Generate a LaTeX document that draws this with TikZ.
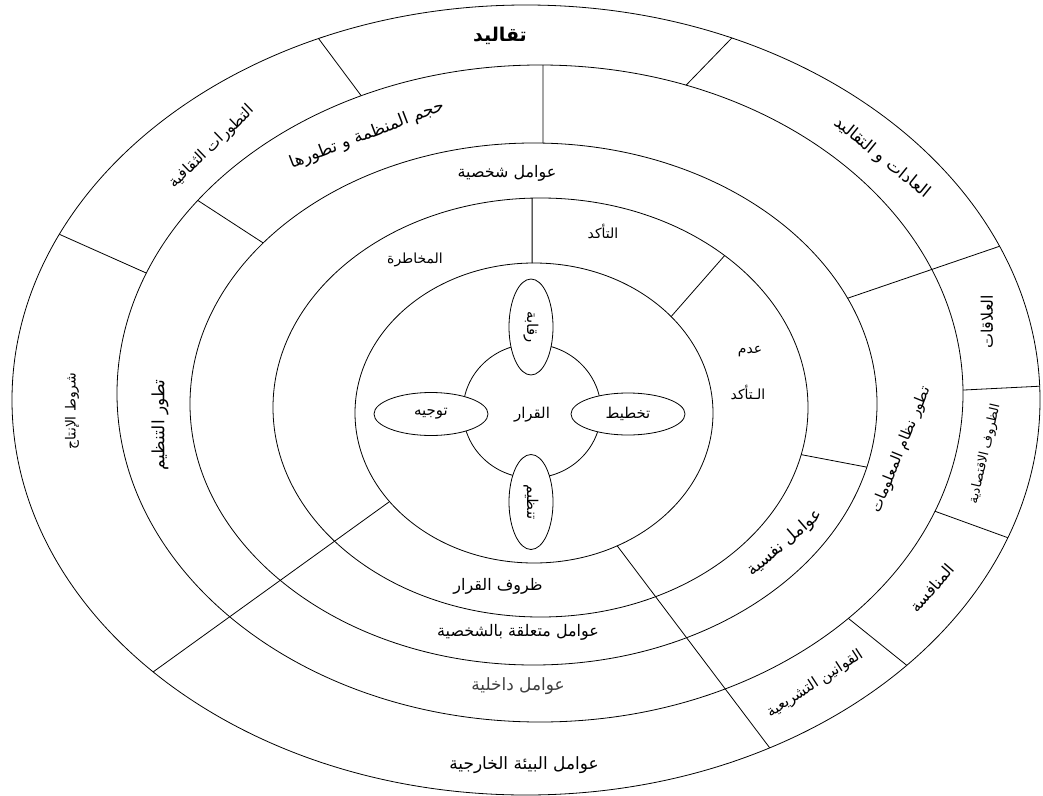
\documentclass[tikz,border=0pt]{standalone}
\usepackage{fontspec}
\newfontfamily\arabicfont[Script=Arabic]{DejaVu Sans}
\TeXXeTstate=1
\usetikzlibrary{calc,shapes.geometric}

\newcommand{\artxt}[1]{\beginR#1\endR}

\tikzset{
    lbl/.style={font=\arabicfont\fontsize{#1}{#1}\selectfont, inner sep=1pt},
    lbl/.default=12,
    titlelbl/.style={font=\arabicfont\bfseries\fontsize{#1}{#1}\selectfont, inner sep=1pt},
    petal/.style={draw, fill=white, ellipse, inner sep=0pt, lbl=15}
}

\begin{document}
\begin{tikzpicture}[x=1bp, y=-1bp, line width=0.8bp]
    \useasboundingbox (0,0) rectangle (1043,796);

    % Centres of the rings
    \coordinate (c1) at (526,400);
    \coordinate (c2) at (540,393.5);
    \coordinate (c3) at (533.5,404);
    \coordinate (c4) at (540.5,407.5);
    \coordinate (c5) at (534,413);
    \coordinate (c6) at (532,411);

    % Rings
    \draw (c1) ellipse [x radius=514bp, y radius=395bp];
    \draw (c2) ellipse [x radius=423bp, y radius=328.5bp];
    \draw (c3) ellipse [x radius=343.5bp, y radius=261bp];
    \draw (c4) ellipse [x radius=267.5bp, y radius=209.5bp];
    \draw (c5) ellipse [x radius=179bp, y radius=150bp];

    % Outer ring: dividers
    \draw ($(c1)+(113.8:514bp and 395bp)$) -- ($(c2)+(115:423bp and 328.5bp)$);
    \draw ($(c1)+(66.4:514bp and 395bp)$) -- ($(c2)+(69.8:423bp and 328.5bp)$);
    \draw ($(c1)+(155.2:514bp and 395bp)$) -- ($(c2)+(158.5:423bp and 328.5bp)$);
    \draw ($(c1)+(22.9:514bp and 395bp)$) -- ($(c3)+(23.9:343.5bp and 261bp)$);
    \draw ($(c1)+(2:514bp and 395bp)$) -- ($(c2)+(0.6:423bp and 328.5bp)$);
    \draw ($(c1)+(-20.4:514bp and 395bp)$) -- ($(c2)+(-21:423bp and 328.5bp)$);
    \draw ($(c1)+(-42.2:514bp and 395bp)$) -- ($(c2)+(-43.2:423bp and 328.5bp)$);

    % Long dividers from the inner ring out
    \draw ($(c5)+(-62.3:179bp and 150bp)$) -- ($(c1)+(-61.7:514bp and 395bp)$);
    \draw ($(c5)+(216.2:179bp and 150bp)$) -- ($(c1)+(223.5:514bp and 395bp)$);

    % Middle rings: dividers
    \draw ($(c2)+(144:423bp and 328.5bp)$) -- ($(c3)+(141.9:343.5bp and 261bp)$);
    \draw ($(c2)+(89.6:423bp and 328.5bp)$) -- ($(c3)+(88.4:343.5bp and 261bp)$);
    \draw ($(c4)+(-13:267.5bp and 209.5bp)$) -- ($(c3)+(-14:343.5bp and 261bp)$);
    \draw ($(c4)+(91.8:267.5bp and 209.5bp)$) -- ($(c5)+(90.6:179bp and 150bp)$);
    \draw ($(c4)+(46.5:267.5bp and 209.5bp)$) -- ($(c5)+(40:179bp and 150bp)$);

    % Decision core
    \draw (c6) ellipse [x radius=69bp, y radius=67bp];
    \node[petal, minimum width=96bp, minimum height=44bp, rotate=-90] (raqaba) at (531,327) {\artxt{رقابة}};
    \node[petal, minimum width=95bp, minimum height=44bp, rotate=-90] (tanzim) at (531,502) {\artxt{تنظيم}};
    \node[petal, minimum width=114bp, minimum height=43bp] (tawjih) at (431,414) {\artxt{توجيه}};
    \node[petal, minimum width=114bp, minimum height=42bp] (takhtit) at (628,414) {\artxt{تخطيط}};
    \node[lbl=15] (qarar) at (532,415) {\artxt{القرار}};

    % Ring D
    \node[lbl=14] (risk) at (415,260) {\artxt{المخاطرة}};
    \node[lbl=14] (certain) at (603,231) {\artxt{التأكد}};
    \node[lbl=14] (adam) at (750,352) {\artxt{عدم}};
    \node[lbl=14] (uncertain) at (748,392) {\artxt{الـتأكد}};
    \node[lbl=16] (conditions) at (498,586) {\artxt{ظروف القرار}};

    % Ring C
    \node[lbl=16] (personal) at (507,173) {\artxt{عوامل شخصية}};
    \node[lbl=17, rotate=41] (psych) at (785,543) {\artxt{عوامل نفسية}};
    \node[lbl=16] (personality) at (518,632) {\artxt{عوامل متعلقة بالشخصية}};

    % Ring B
    \node[lbl=17, rotate=21] (size) at (367,135) {\artxt{حجم المنظمة و تطورها}};
    \node[lbl=17, rotate=90] (orgdev) at (160,425) {\artxt{تطور التنظيم}};
    \node[lbl=15, rotate=68] (infosys) at (901,450) {\artxt{تطور نظام المعلومات}};
    \node[lbl=17, black!75] (internal) at (518,686) {\artxt{عوامل داخلية}};

    % Ring A
    \node[titlelbl=19] (traditions) at (500,36) {\artxt{تقاليد}};
    \node[lbl=15.5, rotate=44] (culture) at (212,147) {\artxt{التطورات الثقافية}};
    \node[lbl=17, rotate=-39] (customs) at (882,158) {\artxt{العادات و التقاليد}};
    \node[lbl=16, rotate=90] (relations) at (987,322) {\artxt{العلاقات}};
    \node[lbl=13, rotate=77] (economy) at (985,454) {\artxt{الظروف الاقتصادية}};
    \node[lbl=16, rotate=49] (competition) at (932,588) {\artxt{المنافسة}};
    \node[lbl=15, rotate=33] (laws) at (815,684) {\artxt{القوانين التشريعية}};
    \node[lbl=17] (external) at (524,765) {\artxt{عوامل البيئة الخارجية}};
    \node[lbl=14, rotate=90] (production) at (72,411) {\artxt{شروط الإنتاج}};
\end{tikzpicture}
\end{document}
